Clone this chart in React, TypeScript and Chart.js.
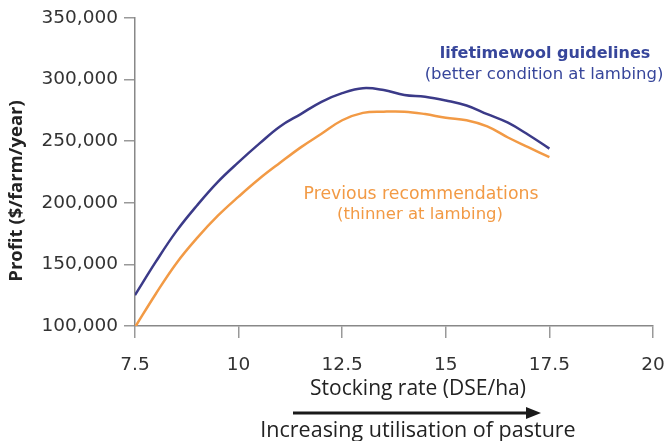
import React, { useEffect, useRef } from "react";
import { Chart, registerables } from "chart.js";

Chart.register(...registerables);

const stockingRate = [7.5, 8.0, 8.5, 9.0, 9.5, 10.0, 10.5, 11.0, 11.5, 12.0, 12.5, 13.0, 13.5, 14.0, 14.5, 15.0, 15.5, 16.0, 16.5, 17.0, 17.5];
const lifetimewool = [125000, 152000, 177000, 198000, 217000, 233000, 248000, 262000, 272000, 282000, 289000, 293000, 291500, 287500, 286000, 283000, 279000, 272000, 265000, 255000, 244000];
const previous = [99000, 126000, 151000, 171500, 189500, 205000, 219500, 232500, 245000, 256000, 267000, 273000, 274000, 274000, 272000, 269000, 267000, 262000, 253000, 245000, 237000];

const xTicks = [7.5, 10, 12.5, 15, 17.5, 20];
const yTicks = [100000, 150000, 200000, 250000, 300000, 350000];

const yTitle = "Profit ($/farm/year)";
const xTitle = "Stocking rate (DSE/ha)";
const arrowLabel = "Increasing utilisation of pasture";
const blueLabel = ["lifetimewool guidelines", "(better condition at lambing)"];
const orangeLabel = ["Previous recommendations", "(thinner at lambing)"];

const BLUE_LINE = "#3b3a88";
const BLUE_TEXT = "#37469b";
const ORANGE = "#f29a45";

const annotations = {
  id: "annotations",
  afterDraw(chart: any) {
    const ctx = chart.ctx as CanvasRenderingContext2D;
    ctx.save();
    ctx.textAlign = "center";
    ctx.textBaseline = "middle";

    // series labels
    ctx.fillStyle = BLUE_TEXT;
    ctx.font = "bold 16px 'DejaVu Sans'";
    ctx.fillText(blueLabel[0], 545, 54);
    ctx.font = "16.5px 'DejaVu Sans'";
    ctx.fillText(blueLabel[1], 544, 75);

    ctx.fillStyle = ORANGE;
    ctx.font = "17.3px 'DejaVu Sans'";
    ctx.fillText(orangeLabel[0], 421, 195);
    ctx.font = "16.5px 'DejaVu Sans'";
    ctx.fillText(orangeLabel[1], 420, 215);

    // y title
    ctx.fillStyle = "#222";
    ctx.save();
    ctx.translate(17, 191);
    ctx.rotate(-Math.PI / 2);
    ctx.font = "bold 18.5px 'Open Sans'";
    ctx.fillText(yTitle, 0, 0);
    ctx.restore();

    // x title
    ctx.font = "21px 'Open Sans'";
    ctx.fillText(xTitle, 418, 389);

    // arrow
    ctx.strokeStyle = "#1a1a1a";
    ctx.fillStyle = "#1a1a1a";
    ctx.lineWidth = 3;
    ctx.beginPath();
    ctx.moveTo(293, 413);
    ctx.lineTo(530, 413);
    ctx.stroke();
    ctx.beginPath();
    ctx.moveTo(541, 413);
    ctx.lineTo(526, 407);
    ctx.lineTo(526, 419);
    ctx.closePath();
    ctx.fill();

    ctx.fillStyle = "#222";
    ctx.font = "21.5px 'Open Sans'";
    ctx.fillText(arrowLabel, 418, 431);
    ctx.restore();
  },
};

export default function App() {
  const ref = useRef<HTMLCanvasElement>(null);
  useEffect(() => {
    if (!ref.current) return;
    const chart = new Chart(ref.current, {
      type: "line",
      data: {
        datasets: [
          {
            label: "lifetimewool guidelines",
            data: stockingRate.map((x, i) => ({ x, y: lifetimewool[i] })),
            borderColor: BLUE_LINE,
            borderWidth: 2.5,
            pointRadius: 0,
            tension: 0.4,
          },
          {
            label: "Previous recommendations",
            data: stockingRate.map((x, i) => ({ x, y: previous[i] })),
            borderColor: ORANGE,
            borderWidth: 2.5,
            pointRadius: 0,
            tension: 0.4,
          },
        ],
      },
      options: {
        responsive: false,
        animation: false,
        layout: { padding: { left: 0, top: 18, right: 12, bottom: 0 } },
        plugins: { legend: { display: false }, tooltip: { enabled: false } },
        scales: {
          x: {
            type: "linear",
            min: 7.5,
            max: 20,
            afterBuildTicks: (s: any) => {
              s.ticks = xTicks.map((v) => ({ value: v }));
            },
            afterFit: (s: any) => {
              s.height = 115;
              s.paddingRight = 0;
              s.paddingLeft = 0;
            },
            ticks: {
              color: "#333",
              font: { family: "'DejaVu Sans'", size: 18.5 },
              padding: 16,
              maxRotation: 0,
              callback: (v: any) => String(v),
            },
            grid: { drawOnChartArea: false, drawTicks: true, tickLength: 12, color: "#999", lineWidth: 1.5 },
            border: { color: "#888", width: 1.5 },
          },
          y: {
            min: 100000,
            max: 350000,
            afterBuildTicks: (s: any) => {
              s.ticks = yTicks.map((v) => ({ value: v }));
            },
            afterFit: (s: any) => {
              s.width = 135;
            },
            ticks: {
              color: "#333",
              font: { family: "'DejaVu Sans'", size: 18.5 },
              padding: 6,
              callback: (v: any) => Number(v).toLocaleString("en-US"),
            },
            grid: { drawOnChartArea: false, drawTicks: true, tickLength: 11, color: "#999", lineWidth: 1.5 },
            border: { color: "#888", width: 1.5 },
          },
        },
      },
      plugins: [annotations],
    });
    return () => chart.destroy();
  }, []);
  return (
    <div style={{ position: "absolute", left: 0, top: 0, width: 665, height: 441, background: "#fff" }}>
      <canvas ref={ref} width={665} height={441} />
    </div>
  );
}
